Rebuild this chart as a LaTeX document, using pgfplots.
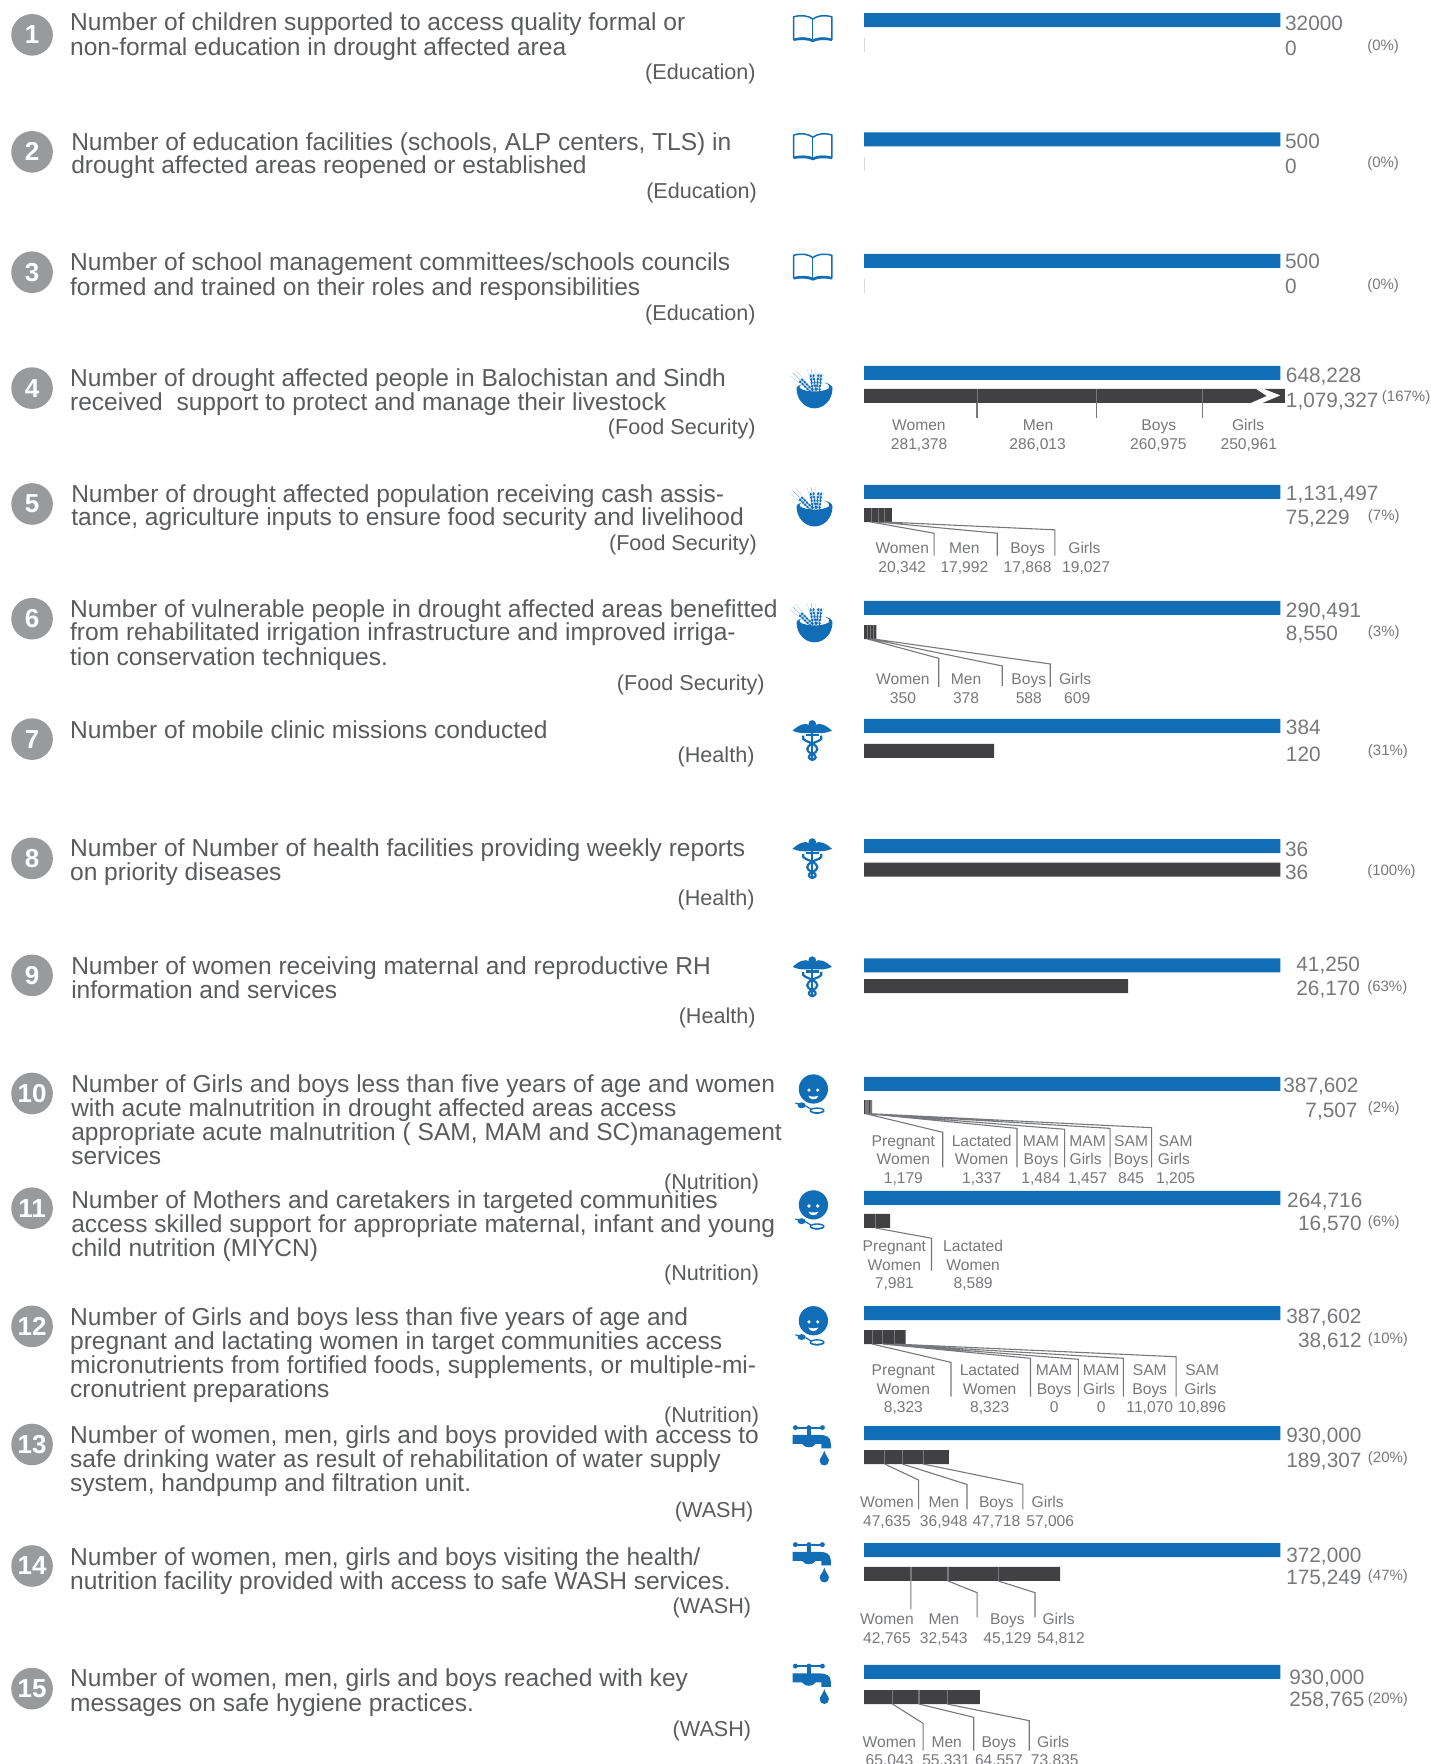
\documentclass[border=0pt]{standalone}
\usepackage{fontspec}
\setmainfont{Liberation Sans}
\usepackage{pgfplots}
\pgfplotsset{compat=1.18}
\definecolor{iblue}{HTML}{106DB6}
\definecolor{idark}{HTML}{414042}
\definecolor{mtext}{HTML}{5A5B5D}
\definecolor{ltext}{HTML}{77787B}
\definecolor{lead}{HTML}{77787B}
\definecolor{circ}{HTML}{999A9C}
\newcommand\ml[3]{\node[anchor=base west,inner sep=0pt,text=mtext,font=\fontsize{12.27}{14}\selectfont] at (#1,{#2+7.5}) {#3};}
\newcommand\cat[3]{\node[anchor=base east,inner sep=0pt,text=mtext,font=\fontsize{10.8}{13}\selectfont] at (#1,{#2+7.5}) {#3};}
\newcommand\val[3]{\node[anchor=base west,inner sep=0pt,text=ltext,font=\fontsize{10.4}{13}\selectfont] at (#1,{#2+7}) {#3};}
\newcommand\valr[3]{\node[anchor=base east,inner sep=0pt,text=ltext,font=\fontsize{10.4}{13}\selectfont] at (#1,{#2+7}) {#3};}
\newcommand\pct[2]{\node[anchor=base west,inner sep=0pt,text=ltext,font=\fontsize{7.5}{9}\selectfont] at (#1) {#2};}
\newcommand\lb[3]{\node[anchor=base,inner sep=0pt,text=ltext,font=\fontsize{7.8}{9}\selectfont] at (#1,{#2+5}) {#3};}
\newcommand\numc[2]{\fill[circ] (28.5,#1) circle (18.5); \node[text=white,font=\fontsize{13}{13}\selectfont\bfseries,inner sep=0pt] at (28.5,#1) {#2};}
\newcommand\book[2]{\begin{scope}[shift={(#1,#2)}]
\draw[iblue,line width=.75pt,line join=round] (-17,-10) .. controls (-10,-12) and (-4,-11) .. (0,-8) .. controls (4,-11) and (10,-12) .. (17,-10) -- (17,10) .. controls (10,8) and (4,9) .. (0,11) .. controls (-4,9) and (-10,8) .. (-17,10) -- cycle;
\draw[iblue,line width=.6pt] (0,-8) -- (0,11);
\fill[iblue] (-17,10) .. controls (-10,7.5) and (-4,8) .. (0,10) .. controls (4,8) and (10,7.5) .. (17,10) -- (17,11.5) .. controls (10,10) and (4,10.5) .. (0,12.5) .. controls (-4,10.5) and (-10,10) .. (-17,11.5) -- cycle;
\end{scope}}
\newcommand\ear[4]{\begin{scope}[shift={(#1,#2)},rotate=#3]
\draw[iblue!45,line width=.3pt] (0,0) -- (0,-#4);
\draw[iblue!30,line width=.2pt] (-1.5,-5) -- (-3.5,-#4) (1.5,-5) -- (3.5,-#4);
\foreach \q in {-3,-6,-9,-12,-15}{\fill[iblue] (-1.3,\q) ellipse [x radius=1,y radius=1.7];\fill[iblue] (1.3,\q) ellipse [x radius=1,y radius=1.7];}
\end{scope}}
\newcommand\bowl[2]{\begin{scope}[shift={(#1,#2)}]
\ear{-1}{3}{46}{25}\ear{0}{3}{8}{21}
\ear{3}{3}{-6}{17}
\fill[iblue] (-16,-1) .. controls (-16,10) and (-8,17) .. (0,17) .. controls (8,17) and (16,10) .. (16,-1) .. controls (16,-3) and (13,-5) .. (9,-6) .. controls (13,-4) and (14,-2) .. (13,-1) .. controls (8,3) and (-8,3) .. (-13,-1) .. controls (-14,-2) and (-13,-3) .. (-12,-4) .. controls (-14,-3.5) and (-16,-2.5) .. (-16,-1) -- cycle;
\end{scope}}
\newcommand\cadu[2]{\begin{scope}[shift={(#1,#2)}]
\fill[iblue] (0,3.5) circle (3.4);
\fill[iblue] (-2,5) .. controls (-6,1.5) and (-12,4.5) .. (-17.5,9.5) .. controls (-12,12) and (-7,12) .. (-1,11.5) -- (1,11.5) .. controls (7,12) and (12,12) .. (17.5,9.5) .. controls (12,4.5) and (6,1.5) .. (2,5) -- cycle;
\draw[iblue,line width=1.1pt] (0,5) -- (0,35.5);
\draw[iblue,line width=1.1pt] (-8,14) .. controls (-10,18.5) and (-3,19) .. (0,21) .. controls (6,24) and (6,28) .. (0,30) .. controls (-5,32) and (-3,35) .. (0,35.5) .. controls (3,35) and (5,32) .. (0,30) .. controls (-6,28) and (-6,24) .. (0,21) .. controls (3,19) and (10,18.5) .. (8,14);
\draw[iblue,line width=1.1pt] (-6,13.5) -- (6,13.5);
\end{scope}}
\newcommand\face[2]{\begin{scope}[shift={(#1,#2)}]
\fill[iblue] (0,0) circle (13);
\fill[white] (-3.9,1) circle (1.6) (3.9,1) circle (1.6);
\fill[white] (-4.5,6) .. controls (-2,7) and (2,7) .. (4.5,6) .. controls (3.5,10.3) and (-3.5,10.3) .. (-4.5,6) -- cycle;
\draw[iblue,line width=.6pt] (-16,12.5) -- (-7,15);
\fill[iblue] (-10.5,14.5) ellipse [x radius=3.6,y radius=2.6];
\draw[iblue,line width=.6pt] (-7,15) -- (-2,18);
\draw[iblue,line width=.7pt] (3.3,19.2) ellipse [x radius=6,y radius=2.2];
\fill[iblue] (-2.7,19.2) .. controls (-1,23) and (7,23) .. (9.3,19.2) .. controls (6,21) and (0,21) .. (-2.7,19.2) -- cycle;
\end{scope}}
\newcommand\tap[2]{\begin{scope}[shift={(#1,#2)}]
\draw[iblue,line width=.9pt] (-11,0) -- (11,0);
\fill[iblue] (-12,0) circle (2.2) (12,0) circle (2.2) (0,0) circle (2.2);
\fill[iblue] (-2,0) rectangle (2,8);
\fill[iblue] (-14.5,6.5) -- (-14.5,14.5) -- (-6,14.5) .. controls (-4,18.5) and (4,18.5) .. (6,14.5) -- (11,14.5) -- (11,18.5) -- (19.5,18.5) -- (19.5,14) .. controls (19.5,8) and (15,6.5) .. (10,6.5) -- cycle;
\fill[iblue] (13.7,20.5) .. controls (12.5,25) and (9.6,27) .. (9.6,29.5) .. controls (9.6,35) and (17.8,35) .. (17.8,29.5) .. controls (17.8,27) and (15,25) .. (13.7,20.5) -- cycle;
\end{scope}}
\begin{document}
\begin{tikzpicture}[x=1pt,y=1pt]
\path[use as bounding box] (0,0) rectangle (715pt,882pt);
\begin{axis}[at={(0,0)},anchor=south west,scale only axis,width=715pt,height=882pt,hide axis,
 xmin=-2.07568,xmax=1.35946,ymin=0,ymax=1568,y dir=reverse,clip=false]
% target bars, every one drawn as 100 % of its target
\addplot[xbar,bar width=7pt,bar shift=0pt,fill=iblue,draw=none] coordinates {(1,18)(1,124)(1,232)(1,331.5)(1,437.3)(1,540.4)(1,645.3)(1,752)(1,858)(1,963.5)(1,1064.8)(1,1167.2)(1,1273.8)(1,1377.8)(1,1486.2)};
% achieved, share of target (indicator 4 is capped at the axis end: 167 % drawn broken)
\addplot[xbar,bar width=7pt,bar shift=0pt,fill=idark,draw=none] coordinates {(1.0108,352)(0.0665,458)(0.0294,561.8)(0.3125,667.5)(1,773)(0.6344,876.5)(0.0194,984)(0.0626,1085.2)(0.0996,1188.5)(0.2036,1295.2)(0.4711,1399)(0.2782,1508.5)};
% zero results
\addplot[only marks,mark=|,mark size=3.5pt,mark options={draw=black!15,line width=.5pt}] coordinates {(0,40)(0,146)(0,254)};
% breakdown separators
\addplot[only marks,mark=|,mark size=3.5pt,mark options={draw=lead,line width=.55pt}] coordinates {(.2714,352)(.5576,352)(.8124,352)(.0180,458)(.0339,458)(.0497,458)(.0081,561.8)(.0162,561.8)(.0227,561.8)(.0046,984)(.0086,984)(.0116,984)(.0146,984)(.0168,984)(.027,1085.2)(.0197,1188.5)(.0451,1188.5)(.0732,1188.5)(.05,1295.2)(.0924,1295.2)(.1422,1295.2)(.1127,1399)(.2016,1399)(.3222,1399)(.0684,1508.5)(.1319,1508.5)(.1997,1508.5)};
\end{axis}
\begin{scope}[shift={(0,882pt)},x=0.5625pt,y=-0.5625pt]
% number circles
\numc{31}{1}\numc{135}{2}\numc{242}{3}\numc{345}{4}\numc{448}{5}\numc{550}{6}\numc{657}{7}\numc{763}{8}\numc{867}{9}\numc{972}{10}\numc{1074}{11}\numc{1179}{12}\numc{1284}{13}\numc{1392}{14}\numc{1501}{15}
% left text
\ml{62}{20}{Number of children supported to access quality formal or}
\ml{62}{42}{non-formal education in drought affected area}
\cat{672}{63}{(Education)}
\ml{63}{126}{Number of education facilities (schools, ALP centers, TLS) in}
\ml{63}{147}{drought affected areas reopened or established}
\cat{673}{169}{(Education)}
\ml{62}{233}{Number of school management committees/schools councils}
\ml{62}{255}{formed and trained on their roles and responsibilities}
\cat{672}{277}{(Education)}
\ml{62}{336}{Number of drought affected people in Balochistan and Sindh}
\ml{62}{357}{received\ \ support to protect and manage their livestock}
\cat{672}{379}{(Food Security)}
\ml{63}{439}{Number of drought affected population receiving cash assis-}
\ml{63}{460}{tance, agriculture inputs to ensure food security and livelihood}
\cat{673}{482}{(Food Security)}
\ml{62}{541}{Number of vulnerable people in drought affected areas benefitted}
\ml{62}{562}{from rehabilitated irrigation infrastructure and improved irriga-}
\ml{62}{584}{tion conservation techniques.}
\cat{680}{606}{(Food Security)}
\ml{62}{649}{Number of mobile clinic missions conducted}
\cat{671}{670}{(Health)}
\ml{62}{754}{Number of Number of health facilities providing weekly reports}
\ml{62}{775}{on priority diseases}
\cat{671}{797}{(Health)}
\ml{63}{859}{Number of women receiving maternal and reproductive RH}
\ml{63}{880}{information and services}
\cat{672}{902}{(Health)}
\ml{63}{964}{Number of Girls and boys less than five years of age and women}
\ml{63}{985}{with acute malnutrition in drought affected areas access}
\ml{63}{1006}{appropriate acute malnutrition ( SAM, MAM and SC)management}
\ml{63}{1028}{services}
\cat{675}{1050}{(Nutrition)}
\ml{63}{1067}{Number of Mothers and caretakers in targeted communities}
\ml{63}{1088}{access skilled support for appropriate maternal, infant and young}
\ml{63}{1109}{child nutrition (MIYCN)}
\cat{675}{1131}{(Nutrition)}
\ml{62}{1171}{Number of Girls and boys less than five years of age and}
\ml{62}{1192}{pregnant and lactating women in target communities access}
\ml{62}{1213}{micronutrients from fortified foods, supplements, or multiple-mi-}
\ml{62}{1235}{cronutrient preparations}
\cat{675}{1257}{(Nutrition)}
\ml{62}{1276}{Number of women, men, girls and boys provided with access to}
\ml{62}{1297}{safe drinking water as result of rehabilitation of water supply}
\ml{62}{1318}{system, handpump and filtration unit.}
\cat{670}{1341}{(WASH)}
\ml{62}{1384}{Number of women, men, girls and boys visiting the health/}
\ml{62}{1405}{nutrition facility provided with access to safe WASH services.}
\cat{668}{1427}{(WASH)}
\ml{62}{1492}{Number of women, men, girls and boys reached with key}
\ml{62}{1514}{messages on safe hygiene practices.}
\cat{668}{1536}{(WASH)}
% icons
\book{722.5}{25}\book{722.5}{130}\book{722.5}{237}
\bowl{724}{346}\bowl{724}{451}\bowl{724}{554}
\cadu{722}{640}\cadu{722}{745}\cadu{722}{850}
\face{723}{968}\face{723}{1071}\face{723}{1174}
\tap{719}{1269}\tap{719}{1373}\tap{719}{1481}
% broken-bar chevron
\fill[white] (1117,346) -- (1124,346) -- (1138,351.5) -- (1122,358.2) -- (1112,358.2) -- (1126,352) -- cycle;
% values
\val{1142}{20}{32000}\val{1142}{42}{0}\pct{1215,45}{(0\%)}
\val{1142}{125}{500}\val{1142}{147}{0}\pct{1215,149}{(0\%)}
\val{1142}{232}{500}\val{1142}{254}{0}\pct{1215,257}{(0\%)}
\val{1142.7}{333.3}{648,228}\val{1142.7}{355}{1,079,327}\pct{1228,357}{(167\%)}
\val{1142.7}{437.9}{1,131,497}\val{1142.7}{459.3}{75,229}\pct{1215.6,463}{(7\%)}
\val{1142.7}{542.2}{290,491}\val{1142.7}{562.3}{8,550}\pct{1215.6,566}{(3\%)}
\val{1142.7}{645.9}{384}\val{1142.7}{669.6}{120}\pct{1215.6,672}{(31\%)}
\val{1142}{754}{36}\val{1142}{775}{36}\pct{1215,778}{(100\%)}
\val{1152}{857}{41,250}\val{1152}{878}{26,170}\pct{1215,881}{(63\%)}
\val{1140.4}{964.4}{387,602}\valr{1207}{986}{7,507}\pct{1215.6,989}{(2\%)}
\val{1143.8}{1066}{264,716}\valr{1210.8}{1086.8}{16,570}\pct{1215.6,1090}{(6\%)}
\val{1143}{1169.5}{387,602}\valr{1210.8}{1191}{38,612}\pct{1215.6,1194}{(10\%)}
\val{1143}{1275.3}{930,000}\val{1143}{1297.2}{189,307}\pct{1215.6,1300}{(20\%)}
\val{1143}{1381.9}{372,000}\val{1143}{1401.8}{175,249}\pct{1215.6,1405}{(47\%)}
\val{1145.7}{1490.4}{930,000}\val{1145.7}{1510.2}{258,765}\pct{1215.6,1514}{(20\%)}
% leaders
\begin{scope}[lead,line width=.55pt]
\draw (868.4,358) -- (868.4,372) (974.3,358) -- (974.3,372) (1068.6,358) -- (1068.6,372);
\draw (774,464) -- (830.3,474) -- (830.3,494) (780,464) -- (886.4,474) -- (886.4,494) (786,464) -- (937.7,471) -- (937.7,494);
\draw (771,568) -- (834.4,585.2) -- (834.4,610.9) (774,568) -- (890.9,592) -- (890.9,609.7) (776.4,568) -- (933.5,590.2) -- (933.5,610.9);
\draw (769.7,990) -- (838,1006.5) -- (838,1037.6) (771.2,990) -- (904,1003) -- (904,1037.6) (772.3,990) -- (946.3,1003.8) -- (946.3,1037.6) (773.4,990) -- (986.7,1003) -- (986.7,1037.6) (774.2,990) -- (1023.7,1002.4) -- (1023.7,1037.6);
\draw (778,1091.5) -- (828,1100.7) -- (828,1129.5);
\draw (775.3,1194.7) -- (845.3,1211) -- (845.3,1241.5) (784.7,1194.7) -- (916,1207.4) -- (916,1241.5) (784.7,1194.7) -- (958.6,1208.3) -- (958.6,1241.5) (784.7,1194.7) -- (998.6,1207.4) -- (998.6,1241.5) (795.1,1194.7) -- (1045.4,1206) -- (1045.4,1241.5);
\draw (786.5,1301.4) -- (816.5,1315.6) -- (816.5,1341.7) (802.2,1301.4) -- (859.5,1319.5) -- (859.5,1341.7) (820.6,1301.4) -- (909.2,1319.5) -- (909.2,1341.7);
\draw (809.7,1405.3) -- (809.7,1430.5) (842.6,1405.3) -- (868.5,1415.7) -- (868.5,1437.6) (887.2,1405.3) -- (920,1415.7) -- (920,1437.6);
\draw (793.3,1514.7) -- (820.6,1531.9) -- (820.6,1556.2) (816.8,1514.7) -- (865.5,1526.5) -- (865.5,1556.2) (841.9,1514.7) -- (914.9,1529.5) -- (914.9,1556.2);
\end{scope}
% breakdown labels
\lb{816.8}{377.5}{Women}\lb{922.7}{377.5}{Men}\lb{1030}{377.5}{Boys}\lb{1109.4}{377.5}{Girls}
\lb{817}{394.7}{281,378}\lb{922.3}{394.7}{286,013}\lb{1029.7}{394.7}{260,975}\lb{1110}{394.7}{250,961}
\lb{802}{486.8}{Women}\lb{857.2}{486.8}{Men}\lb{913.4}{486.8}{Boys}\lb{963.9}{486.8}{Girls}
\lb{802}{503.7}{20,342}\lb{857.2}{503.7}{17,992}\lb{913.4}{503.7}{17,868}\lb{965.4}{503.7}{19,027}
\lb{802.6}{603.8}{Women}\lb{858.7}{603.8}{Men}\lb{914.5}{603.8}{Boys}\lb{955.6}{603.8}{Girls}
\lb{802.6}{620.1}{350}\lb{858.7}{620.1}{378}\lb{914.5}{620.1}{588}\lb{957.5}{620.1}{609}
\lb{803}{1014.2}{Pregnant}\lb{803}{1030.2}{Women}\lb{803}{1046.8}{1,179}
\lb{872.6}{1014.2}{Lactated}\lb{872.6}{1030.2}{Women}\lb{872.6}{1046.8}{1,337}
\lb{925.3}{1014.2}{MAM}\lb{925.3}{1030.2}{Boys}\lb{925.3}{1046.8}{1,484}
\lb{966.8}{1014.2}{MAM}\lb{965}{1030.2}{Girls}\lb{966.8}{1046.8}{1,457}
\lb{1005.4}{1014.2}{SAM}\lb{1005.4}{1030.2}{Boys}\lb{1005.4}{1046.8}{845}
\lb{1045}{1014.2}{SAM}\lb{1043.5}{1030.2}{Girls}\lb{1045}{1046.8}{1,205}
\lb{795}{1107.2}{Pregnant}\lb{795}{1124}{Women}\lb{795}{1140.7}{7,981}
\lb{865}{1107.2}{Lactated}\lb{865}{1124}{Women}\lb{865}{1140.7}{8,589}
\lb{803}{1217.8}{Pregnant}\lb{803}{1234.7}{Women}\lb{803}{1250.7}{8,323}
\lb{879.7}{1217.8}{Lactated}\lb{879.7}{1234.7}{Women}\lb{879.7}{1250.7}{8,323}
\lb{937}{1217.8}{MAM}\lb{937}{1234.7}{Boys}\lb{937}{1250.7}{0}
\lb{978.8}{1217.8}{MAM}\lb{977}{1234.7}{Girls}\lb{978.8}{1250.7}{0}
\lb{1022}{1217.8}{SAM}\lb{1022}{1234.7}{Boys}\lb{1022}{1250.7}{11,070}
\lb{1068.6}{1217.8}{SAM}\lb{1067}{1234.7}{Girls}\lb{1068.6}{1250.7}{10,896}
\lb{788.4}{1335.2}{Women}\lb{838.9}{1335.2}{Men}\lb{885.7}{1335.2}{Boys}\lb{931.3}{1335.2}{Girls}
\lb{788.4}{1351.8}{47,635}\lb{838.9}{1351.8}{36,948}\lb{885.7}{1351.8}{47,718}\lb{933.5}{1351.8}{57,006}
\lb{788.4}{1439.1}{Women}\lb{838.9}{1439.1}{Men}\lb{895.4}{1439.1}{Boys}\lb{941}{1439.1}{Girls}
\lb{788.4}{1455.7}{42,765}\lb{838.9}{1455.7}{32,543}\lb{895.4}{1455.7}{45,129}\lb{943}{1455.7}{54,812}
\lb{790.6}{1548.1}{Women}\lb{841.5}{1548.1}{Men}\lb{887.9}{1548.1}{Boys}\lb{936.2}{1548.1}{Girls}
\lb{790.6}{1564.4}{65,043}\lb{841}{1564.4}{55,331}\lb{887.9}{1564.4}{64,557}\lb{937.5}{1564.4}{73,835}
\end{scope}
\end{tikzpicture}
\end{document}
